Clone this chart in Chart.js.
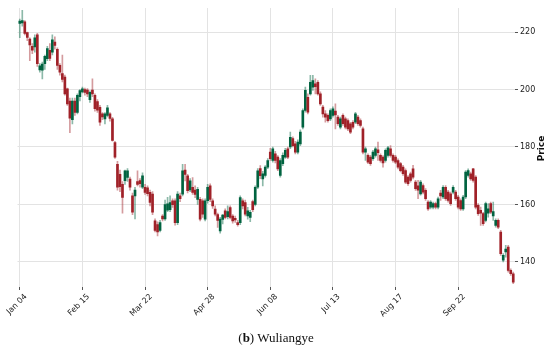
<!DOCTYPE html>
<html>
<head>
<meta charset="utf-8">
<script src="https://cdn.jsdelivr.net/npm/chart.js@4.4.0/dist/chart.umd.min.js"></script>
<style>
  html, body { margin: 0; padding: 0; background: #fff; }
  #caja { position: relative; width: 550px; height: 348px; }
  #pie { position: absolute; left: 0; top: 330px; width: 552px; text-align: center;
         font-family: "Liberation Serif", "DejaVu Serif", serif; font-size: 13px; line-height: 16px; color: #111; }
</style>
</head>
<body>
<div id="caja">
  <canvas id="myChart" width="550" height="348"></canvas>
  <div id="pie">(<b>b</b>) Wuliangye</div>
</div>
<script>
// etiquetas del eje x y su posicion (indice de la vela)
const fechas = ["Jan 04", "Feb 15", "Mar 22", "Apr 28", "Jun 08", "Jul 13", "Aug 17", "Sep 22"];
const posFechas = [0, 25, 50, 75, 100, 125, 150, 175];
const precios = [140, 160, 180, 200, 220];

const apertura = [
  223, 223.2, 223.5, 219.8, 217.5, 215, 214.8, 219, 206.8, 206.7,
  209, 210.7, 213.6, 213, 216.5, 214, 208.4, 205.5, 204.3, 200.2,
  196, 189.5, 196, 192, 197.5, 199.2, 200, 199.8, 196.5, 199.8,
  198, 195.8, 193.8, 191.5, 189.8, 191, 191.5, 189.8, 181.5, 174,
  170.5, 167, 168.3, 169.4, 168.8, 163, 163, 168, 168.3, 166,
  166, 165.8, 164.2, 163.6, 154.3, 153, 151, 156, 155, 158,
  158.2, 161.3, 161.3, 153.7, 163, 163.6, 172, 170, 165.1, 166,
  165, 161.8, 161.8, 161.3, 154.9, 161.3, 166.5, 161.3, 158.4, 156.5,
  150.8, 154.8, 157.8, 155.8, 158.9, 156, 155.2, 153.7, 153.7, 161.3,
  160.7, 156, 155.5, 161, 160, 166, 172.5, 168.9, 170.1, 173,
  178.2, 175.3, 177.6, 176.5, 170.1, 174.2, 176.5, 179.4, 180, 182.9,
  181.1, 178.2, 181.1, 186.9, 192.7, 197.3, 198.5, 200.8, 202, 202.5,
  198.5, 193.9, 191.5, 191, 189.8, 191, 192.5, 190.4, 186.9, 191,
  189.8, 189.2, 188.1, 188.6, 188.6, 190.4, 189.2, 186.3, 178.2, 177.1,
  176.5, 175.9, 177.1, 179, 177.1, 176.5, 175.3, 177.1, 179.4, 177.1,
  176.5, 175.3, 174.2, 173, 171.8, 169.5, 170.7, 172.4, 167.8, 166.5,
  163.7, 166.6, 164.9, 160.8, 159.1, 159.1, 160.3, 159.1, 164, 162.6,
  166, 164.3, 163.7, 164.3, 164.3, 162.6, 161.4, 158.5, 162.6, 170.1,
  170.7, 172.4, 169.5, 159.7, 158, 156.8, 154.5, 157, 160.3, 156,
  152.7, 154.5, 150.4, 140.6, 143.5, 145.2, 137.1, 135.9
];
const maximo = [
  224.5, 227.5, 224, 220, 218, 216, 219, 219.5, 209, 209.5,
  212, 215, 216, 219, 218.3, 214.5, 209, 212, 205, 200.5,
  197, 197, 197, 198.5, 200, 200.8, 200.5, 200.3, 199.5, 203.7,
  198.5, 196.5, 194.5, 192, 192, 194.5, 192, 190.3, 182, 175,
  172, 168, 172, 172.5, 169.5, 164, 166, 171.7, 169, 171,
  167, 166.5, 165, 164.5, 155, 154, 154.5, 156.5, 161.5, 162.5,
  163, 162, 162, 164.5, 164, 174, 174, 170.5, 169, 169.4,
  166.5, 166, 162.5, 162, 162, 167, 167.2, 162, 159.5, 157,
  155.5, 156.6, 158.5, 159.5, 159.5, 156.5, 156, 154.5, 163, 162,
  161.5, 159, 158, 161.5, 166.5, 172.5, 173.5, 171.5, 173.5, 176,
  179.5, 180, 178.5, 177, 176, 178, 179.5, 180, 185.2, 183.5,
  182, 182.5, 186, 193.3, 200.8, 198.5, 204.9, 204.9, 203.7, 203.1,
  199.2, 194.5, 192.7, 191.5, 193.3, 194, 195, 191, 190.4, 191.5,
  190.4, 189.8, 188.6, 189.2, 192.1, 191, 189.8, 186.9, 180, 177.6,
  177.1, 178.8, 180, 181.7, 177.6, 177, 179.4, 180.2, 180.5, 177.6,
  177.1, 175.9, 174.7, 173.6, 172.4, 170.1, 171.3, 173.6, 168.4, 168.4,
  168.4, 167.2, 165.5, 161.4, 161.4, 160.8, 160.8, 162.6, 164.9, 166.6,
  166.6, 164.9, 164.3, 166.6, 164.9, 163.2, 162, 163.2, 171.8, 172.4,
  171.3, 172.6, 170.1, 160.3, 159.1, 157.3, 160.8, 160.3, 160.8, 160.8,
  155, 155, 151, 142.9, 145.8, 145.8, 137.6, 136.5
];
const minimo = [
  218, 222, 219, 217, 210, 212.5, 213, 208, 206, 203.7,
  207, 210, 210, 212, 214, 207, 205, 202.6, 198, 194.5,
  185, 188, 191, 191.5, 196, 198.8, 198, 197.5, 195.5, 197.5,
  192.5, 192, 187.5, 189.5, 188, 190.5, 189, 182, 176, 165,
  164.5, 157, 167, 168, 165, 156.5, 155, 166.5, 166, 165.5,
  163.5, 163, 159.5, 156.5, 150.5, 149.1, 150.5, 154.3, 154.5, 157.5,
  157.5, 159, 152.8, 153, 161, 163, 168.2, 164, 164.5, 163.5,
  162.4, 160, 154.3, 155.5, 154.3, 160.5, 161, 158.6, 156, 152,
  150, 153.2, 155, 155, 155, 153.5, 153.8, 152.5, 153, 158.5,
  156, 154.9, 154, 157.5, 159.5, 165.5, 169, 166.5, 169.5, 172.5,
  175.3, 174.7, 174.5, 171.8, 169.5, 173.5, 176, 175.9, 179.4, 180,
  177.6, 177.6, 180.5, 186.3, 192.1, 191.5, 198, 199.7, 198.5, 198,
  194.5, 190.4, 188.6, 188.6, 189.2, 190.4, 186.3, 187.5, 186.3, 187.5,
  186.3, 185.7, 184.6, 186.3, 188.1, 187.5, 186.9, 177.6, 175.3, 174.2,
  173.6, 175.3, 176.5, 175.3, 174.7, 173, 174.7, 176.5, 176.5, 174.7,
  174.2, 172.4, 171.3, 170.1, 167.2, 166.6, 167.8, 168.9, 164.9, 162,
  163.2, 163.7, 161.4, 157.9, 158.5, 158.5, 158.5, 158.5, 161.4, 162,
  161.4, 160.8, 159.7, 163.7, 161.4, 158.5, 157.9, 157.9, 162, 169.5,
  168.4, 167.8, 158.5, 156.2, 152.7, 152.7, 153.9, 155.6, 156.8, 154.5,
  152.1, 151.6, 142.3, 140, 141.7, 136.5, 135.3, 132.5
];
const cierre = [
  223.8, 224, 219.5, 218.1, 215.5, 213.7, 218, 209, 208.2, 208.8,
  211.5, 214.2, 210.8, 217.3, 215.3, 208.4, 206, 203.5, 198.5, 195,
  190, 196, 192, 198, 199.6, 200.2, 199, 198.5, 199, 198.5,
  193.3, 192.8, 188.6, 190.5, 191.5, 193.6, 189.9, 182.3, 176.5, 166,
  166.2, 162.5, 171.7, 171.7, 166, 157.3, 165, 167, 167.2, 170,
  164.2, 163.8, 160.7, 157.3, 151, 150.5, 153.7, 155, 160, 160.2,
  160.7, 159.9, 153.7, 163.6, 162, 171.7, 170.5, 164.8, 168.2, 164.2,
  163.5, 165.3, 154.9, 156.6, 161.3, 166, 161.8, 159.5, 156.6, 154.5,
  154.9, 156.3, 155.5, 157.5, 155.5, 154.3, 154.6, 153, 162.4, 159.5,
  156.6, 157.8, 157.3, 158.2, 166, 171.7, 170, 170.7, 173, 175.3,
  175.9, 179.4, 175.3, 172.4, 175.3, 177.1, 178.8, 176.5, 183.4, 180.5,
  178.2, 181.7, 185.2, 192.7, 199.7, 192.1, 202.5, 203.1, 201, 198.5,
  195, 191.5, 190.4, 189.2, 192.7, 193.3, 191.2, 188.1, 189.8, 188.1,
  186.9, 186.3, 185.2, 186.9, 191.5, 188.1, 187.5, 178.2, 179.4, 174.7,
  174.2, 178.2, 179.4, 178, 175.3, 174.5, 178.8, 179.7, 177.1, 175.3,
  174.7, 173, 171.8, 170.7, 167.8, 167.2, 168.4, 169.5, 165.5, 165,
  167.8, 164.3, 162, 158.5, 160.8, 160.3, 159.1, 162, 163, 166,
  162, 161.4, 160.3, 166, 162, 159.1, 158.5, 162.6, 171.3, 171.8,
  168.9, 168.4, 159.1, 156.8, 157, 153.3, 160.3, 158.5, 157.3, 157.5,
  154.5, 152.1, 142.9, 142.3, 144.5, 137.1, 135.9, 133
];

const ctx = document.querySelector("#myChart");

const sube = (i) => cierre[i] >= apertura[i];
const velas = cierre.map((c, i) => ({ x: i, y: [Math.min(apertura[i], c), Math.max(apertura[i], c)] }));
const mechas = cierre.map((c, i) => ({ x: i, y: [minimo[i], maximo[i]] }));
const colorVela = cierre.map((c, i) => (sube(i) ? "#006340" : "#a02128"));
const colorMecha = cierre.map((c, i) => (sube(i) ? "rgba(0,99,64,0.45)" : "rgba(160,33,40,0.45)"));

// titulo "Price" girado, leyendo de abajo hacia arriba
const tituloPrecio = {
  id: "tituloPrecio",
  afterDraw(chart) {
    const c = chart.ctx;
    const area = chart.chartArea;
    c.save();
    c.translate(chart.width - 8.5, (area.top + area.bottom) / 2 + 1);
    c.rotate(-Math.PI / 2);
    c.font = "bold 9px 'DejaVu Sans'";
    c.fillStyle = "#111";
    c.textAlign = "center";
    c.textBaseline = "middle";
    c.fillText("Price", 0, 0);
    c.restore();
  },
};

const grafico = new Chart(ctx, {
  type: "bar",
  data: {
    datasets: [
      { data: mechas, backgroundColor: colorMecha, barThickness: 1, grouped: false, order: 2 },
      { data: velas, backgroundColor: colorVela, barThickness: 2, grouped: false, order: 1 },
    ],
  },
  options: {
    responsive: false,
    animation: false,
    layout: { padding: { left: 15, top: 8, right: 0, bottom: 0 } },
    plugins: { legend: { display: false }, tooltip: { enabled: false } },
    scales: {
      x: {
        type: "linear",
        min: -0.9,
        max: 197.7,
        offset: false,
        afterBuildTicks: (s) => { s.ticks = posFechas.map((v) => ({ value: v })); },
        afterFit: (s) => { s.height = 61; },
        border: { display: false },
        grid: { offset: false, color: "#e3e3e3", tickColor: "#555", tickLength: 3 },
        ticks: {
          autoSkip: false,
          minRotation: 45,
          maxRotation: 45,
          labelOffset: 6,
          padding: 2,
          color: "#222",
          font: { family: "DejaVu Sans", size: 8 },
          callback: (v) => fechas[posFechas.indexOf(v)] ?? "",
        },
      },
      y: {
        position: "right",
        min: 131.3,
        max: 228.35,
        beginAtZero: false,
        afterBuildTicks: (s) => { s.ticks = precios.map((v) => ({ value: v })); },
        afterFit: (s) => { s.width = 35; },
        border: { display: false },
        grid: { color: "#e3e3e3", tickColor: "#555", tickLength: 3 },
        ticks: {
          padding: 2,
          color: "#222",
          font: { family: "DejaVu Sans", size: 8 },
        },
      },
    },
  },
  plugins: [tituloPrecio],
});
</script>
</body>
</html>
